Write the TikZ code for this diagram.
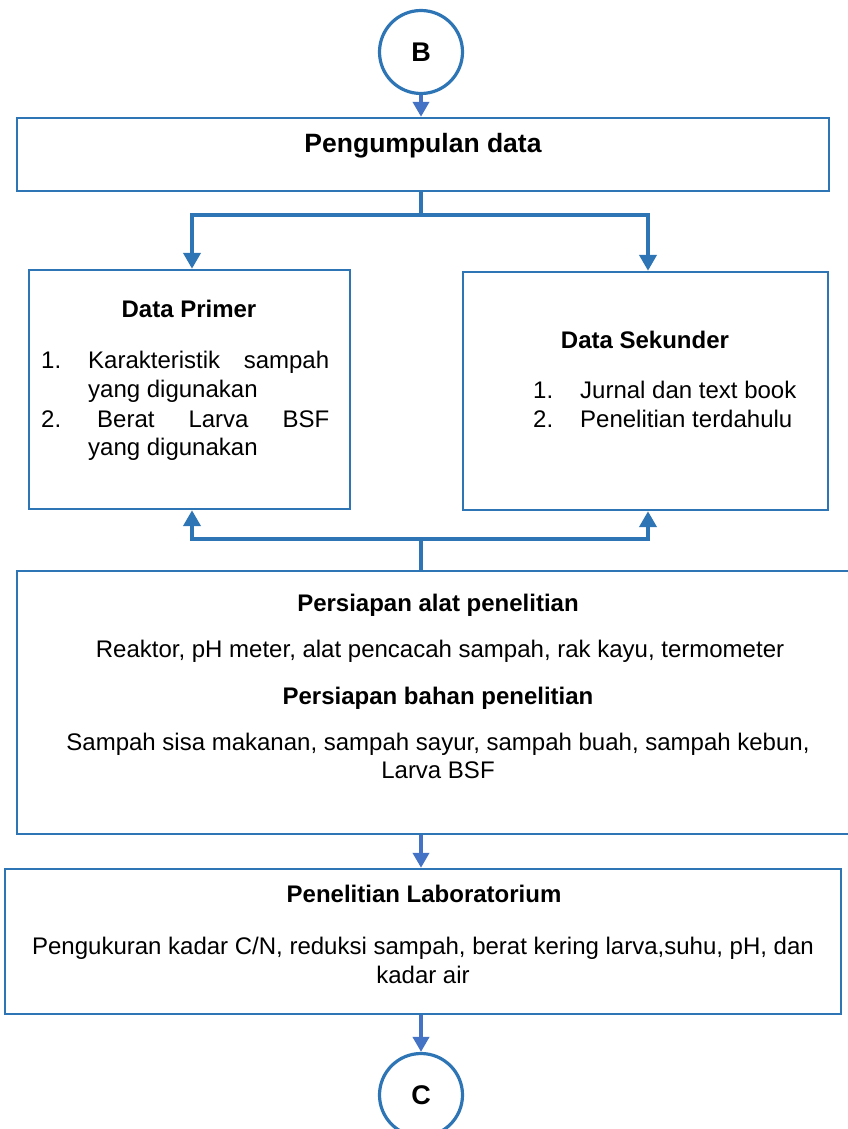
\documentclass[tikz,border=0pt]{standalone}
\usepackage{fontspec}
\setmainfont{Liberation Sans}
\usepackage{xcolor}
\usepackage{tikz}
\usetikzlibrary{arrows.meta,positioning,calc}
\definecolor{fcedge}{RGB}{46,117,182}
\definecolor{fcarrow}{RGB}{68,114,196}
\tikzset{
  fcbox/.style={
    draw=fcedge, line width=2.4pt, fill=white, inner sep=0pt
  },
  conn/.style={
    circle, draw=fcedge, line width=3.2pt, minimum size=83pt, inner sep=0pt,
    font=\fontsize{27}{30}\selectfont\bfseries
  },
  txt/.style={inner sep=0pt, anchor=base, font=\fontsize{24}{29}\selectfont},
  ttl/.style={txt, font=\fontsize{24}{29}\selectfont\bfseries},
  arr/.style={-{Triangle[length=15pt,width=16pt]}, draw=fcarrow, line width=4pt},
  bus/.style={draw=fcedge, line width=4pt},
  busarr/.style={bus, -{Triangle[length=16pt,width=17pt]}}
}
\begin{document}
\begin{tikzpicture}[x=1pt,y=-1pt]
  \useasboundingbox (0,0) rectangle (847,1129);
  % connectors and boxes
  \node[conn] (b) at (421,52) {B};
  \node[fcbox, minimum width=812pt, minimum height=73pt] (kumpul) at (423,154.5) {};
  \node[fcbox, minimum width=321pt, minimum height=239pt] (primer) at (189.5,389.5) {};
  \node[fcbox, minimum width=365pt, minimum height=238pt] (sekunder) at (645.5,391) {};
  \node[fcbox, minimum width=842pt, minimum height=263pt] (siap) at (438,702.5) {};
  \node[fcbox, minimum width=836pt, minimum height=145pt] (lab) at (423,941.5) {};
  \node[conn] (c) at (421,1095) {C};

  \node[txt, font=\fontsize{26.5}{31}\selectfont\bfseries] (kumpultxt) at (423,153) {Pengumpulan data};

  \node[ttl] (primertxt) at (189,317) {Data Primer};
  \node[txt, anchor=base west] (p1n) at (41,368) {1.};
  \node[txt, anchor=base west] (p1a) at (88,368) {\makebox[241pt][s]{Karakteristik sampah}};
  \node[txt, anchor=base west] (p1b) at (88,397) {yang digunakan};
  \node[txt, anchor=base west] (p2n) at (41,427) {2.};
  \node[txt, anchor=base west] (p2a) at (97,427) {\makebox[232pt][s]{Berat Larva BSF}};
  \node[txt, anchor=base west] (p2b) at (88,455) {yang digunakan};

  \node[ttl] (sekundertxt) at (645,348) {Data Sekunder};
  \node[txt, anchor=base west] (s1n) at (533,398) {1.};
  \node[txt, anchor=base west] (s1a) at (580,398) {Jurnal dan text book};
  \node[txt, anchor=base west] (s2n) at (533,427) {2.};
  \node[txt, anchor=base west] (s2a) at (580,427) {Penelitian terdahulu};

  \node[ttl] (alat) at (438,611) {Persiapan alat penelitian};
  \node[txt] (alatisi) at (440,657) {Reaktor, pH meter, alat pencacah sampah, rak kayu, termometer};
  \node[ttl] (bahan) at (438,704) {Persiapan bahan penelitian};
  \node[txt] (bahanisi) at (438,750) {Sampah sisa makanan, sampah sayur, sampah buah, sampah kebun,};
  \node[txt] (bahanisi2) at (438,778) {Larva BSF};

  \node[ttl] (labtxt) at (424,902) {Penelitian Laboratorium};
  \node[txt] (labisi) at (423,954) {Pengukuran kadar C/N, reduksi sampah, berat kering larva,suhu, pH, dan};
  \node[txt] (labisi2) at (423,983) {kadar air};

  \coordinate (split) at (421,215);
  \coordinate (merge) at (421,539);
  \draw[arr] (b) -- (b |- kumpul.north);
  \draw[bus] (split |- kumpul.south) -- (split);
  \draw[busarr] (split) -| (primer.north -| 192,0);
  \draw[busarr] (split) -| (sekunder.north -| 648,0);
  \draw[bus] (merge |- siap.north) -- (merge);
  \draw[busarr] (merge) -| (primer.south -| 192,0);
  \draw[busarr] (merge) -| (sekunder.south -| 648,0);
  \draw[arr] (merge |- siap.south) -- (merge |- lab.north);
  \draw[arr] (c |- lab.south) -- (c);
\end{tikzpicture}
\end{document}
